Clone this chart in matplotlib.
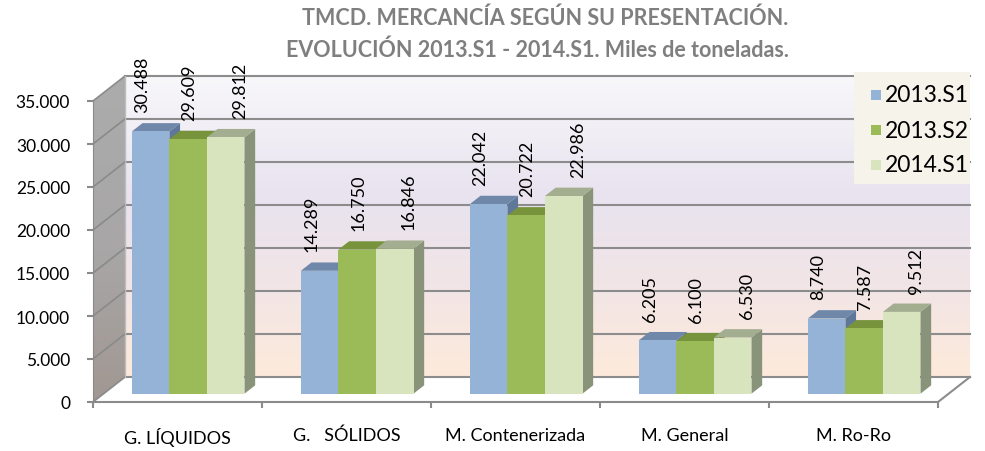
import numpy as np
import matplotlib
matplotlib.use('Agg')
import matplotlib.pyplot as plt
from matplotlib.patches import Polygon, Rectangle
from matplotlib.colors import LinearSegmentedColormap

plt.rcParams['font.family'] = ['Lato', 'DejaVu Sans']

# data
categories = ['G. LÍQUIDOS', 'G.   SÓLIDOS', 'M. Contenerizada', 'M. General', 'M. Ro-Ro']
series_names = ['2013.S1', '2013.S2', '2014.S1']
s2013_1 = [30488, 14289, 22042, 6205, 8740]
s2013_2 = [29609, 16750, 20722, 6100, 7587]
s2014_1 = [29812, 16846, 22986, 6530, 9512]
value_labels = [['30.488', '14.289', '22.042', '6.205', '8.740'],
                ['29.609', '16.750', '20.722', '6.100', '7.587'],
                ['29.812', '16.846', '22.986', '6.530', '9.512']]
yticks = [0, 5000, 10000, 15000, 20000, 25000, 30000, 35000]
ytick_labels = ['0', '5.000', '10.000', '15.000', '20.000', '25.000', '30.000', '35.000']

series = [s2013_1, s2013_2, s2014_1]
front_cols = ['#95b3d7', '#9bbb59', '#d7e4bd']
top_cols = ['#6f88aa', '#77933c', '#a3ad90']
side_cols = ['#5f7799', '#6b8636', '#89937a']
grid_col = '#8c8c8c'

W, H = 985, 452
fig = plt.figure(figsize=(W / 100, H / 100), dpi=100)

# background axes in pixel units, used for the 3d walls and bars
bg = fig.add_axes([0, 0, 1, 1], zorder=0)
bg.set_xlim(0, W)
bg.set_ylim(0, H)
bg.axis('off')

# main axes = front plane of the 3d box
ax = fig.add_axes([93 / W, 49 / H, 845 / W, 301 / H], zorder=1)
ax.set_xlim(-0.5, 4.5)
ax.set_ylim(0, 35000)
ax.patch.set_visible(False)

DX, DY = 32, 25  # depth of the box in pixels


def proj(x, v, d):
    p = ax.transData.transform((x, v))
    p = bg.transData.inverted().transform(p)
    return (p[0] + d * DX, p[1] + d * DY)


# back wall gradient
x0b, y0b = proj(-0.5, 0, 1)
x1b, y1b = proj(4.5, 35000, 1)
wall_cmap = LinearSegmentedColormap.from_list(
    'wall', [(0, '#fdeadb'), (0.3, '#f2e5e6'), (0.6, '#e8e3ef'), (1, '#f8f7fa')])
grad = np.linspace(0, 1, 256).reshape(-1, 1)
bg.imshow(grad, extent=[x0b, x1b, y0b, y1b], origin='lower', cmap=wall_cmap,
          aspect='auto', zorder=1)

# left side wall
side_poly = Polygon([proj(-0.5, 0, 0), proj(-0.5, 0, 1), proj(-0.5, 35000, 1),
                     proj(-0.5, 35000, 0)], closed=True, facecolor='none',
                    edgecolor='none')
bg.add_patch(side_poly)
side_cmap = LinearSegmentedColormap.from_list('side', ['#a0958f', '#a8a6a6', '#acacac'])
sx0, sy0 = proj(-0.5, 0, 0)
sx1, sy1 = proj(-0.5, 35000, 1)
im = bg.imshow(grad, extent=[sx0, sx1, sy0 - DY, sy1], origin='lower', cmap=side_cmap,
               aspect='auto', zorder=1)
im.set_clip_path(side_poly)

# floor
floor = Polygon([proj(-0.5, 0, 0), proj(4.5, 0, 0), proj(4.5, 0, 1), proj(-0.5, 0, 1)],
                closed=True, facecolor='white', edgecolor='none', zorder=1)
bg.add_patch(floor)
fx = [proj(4.5, 0, 0)[0], proj(4.5, 0, 1)[0]]
fy = [proj(4.5, 0, 0)[1], proj(4.5, 0, 1)[1]]
bg.plot(fx, fy, color=grid_col, lw=1.5, zorder=2)

# gridlines on back wall and side wall
for v in yticks:
    a = proj(-0.5, v, 0)
    b = proj(-0.5, v, 1)
    c = proj(4.5, v, 1)
    bg.plot([b[0], c[0]], [b[1], c[1]], color=grid_col, lw=1.5, zorder=2)
    bg.plot([a[0], b[0]], [a[1], b[1]], color='#8a8a8a', lw=1.2, zorder=2)
a = proj(-0.5, 0, 1)
b = proj(-0.5, 35000, 1)
bg.plot([a[0], b[0]], [a[1], b[1]], color='#bdbdbd', lw=1, zorder=2)

# bars
bw = 2 / 9
for i in range(len(categories)):
    for j, vals in enumerate(series):
        h = vals[i]
        x0 = i - 1 / 3 + j * bw
        x1 = x0 + bw
        front = [proj(x0, 0, 1 / 3), proj(x1, 0, 1 / 3), proj(x1, h, 1 / 3), proj(x0, h, 1 / 3)]
        top = [proj(x0, h, 1 / 3), proj(x1, h, 1 / 3), proj(x1, h, 2 / 3), proj(x0, h, 2 / 3)]
        side = [proj(x1, 0, 1 / 3), proj(x1, 0, 2 / 3), proj(x1, h, 2 / 3), proj(x1, h, 1 / 3)]
        z = 3 + j * 0.1
        bg.add_patch(Polygon(side, closed=True, facecolor=side_cols[j], edgecolor='none', zorder=z))
        bg.add_patch(Polygon(top, closed=True, facecolor=top_cols[j], edgecolor='none', zorder=z))
        bg.add_patch(Polygon(front, closed=True, facecolor=front_cols[j], edgecolor='none', zorder=z))
        # value label
        fc = proj((x0 + x1) / 2, h, 1 / 3)
        bk = proj((x0 + x1) / 2, h, 2 / 3)
        bg.text(fc[0] + [-8, 1, 14][j], bk[1] + 11, value_labels[j][i], rotation=90,
                ha='center', va='bottom', fontsize=13, color='black', zorder=5)

# axes styling
for s in ['top', 'right']:
    ax.spines[s].set_visible(False)
ax.spines['left'].set_color('#8a8a8a')
ax.spines['bottom'].set_color('#8a8a8a')
ax.spines['bottom'].set_linewidth(1.5)
ax.set_yticks(yticks, ytick_labels)
ax.tick_params(axis='y', length=4.5, width=1.5, color='#8a8a8a', pad=12, labelsize=12.5)
ax.set_xticks(np.arange(-0.5, 5, 1), [''] * 6)
ax.set_xticks(np.arange(5), categories, minor=True)
ax.tick_params(axis='x', which='major', length=4, width=1.5, color='#8a8a8a')
ax.tick_params(axis='x', which='minor', length=0, pad=18, labelsize=13)

# legend box
bg.add_patch(Rectangle((854, H - 185), 116, 112, facecolor='#f6f4ea', edgecolor='none', zorder=6))
leg_y = [96, 131, 166]
for j, name in enumerate(series_names):
    bg.add_patch(Rectangle((871, H - leg_y[j] - 5), 10, 10, facecolor=front_cols[j],
                           edgecolor='none', zorder=7))
    bg.text(885, H - leg_y[j], name, fontsize=16.5, va='center', ha='left', zorder=7)

# title
fig.text(545 / W, 1 - 18 / H, 'TMCD. MERCANCÍA SEGÚN SU PRESENTACIÓN.', ha='center',
         va='center', fontsize=15.5, fontweight='bold', color='#7f7f7f')
fig.text(537 / W, 1 - 50 / H, 'EVOLUCIÓN 2013.S1 - 2014.S1. Miles de toneladas.', ha='center',
         va='center', fontsize=15.5, fontweight='bold', color='#7f7f7f')

fig.savefig('out.png', dpi=100)
